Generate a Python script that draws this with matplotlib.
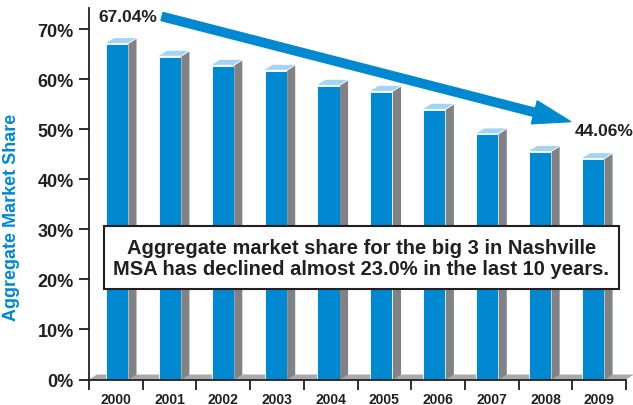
import matplotlib
matplotlib.use("Agg")
import matplotlib.pyplot as plt
from matplotlib.patches import Polygon, Rectangle
import numpy as np

plt.rcParams['font.family'] = ['Liberation Sans', 'DejaVu Sans']

years = ['2000', '2001', '2002', '2003', '2004', '2005', '2006', '2007', '2008', '2009']
share = [67.04, 64.5, 62.7, 61.7, 58.7, 57.5, 53.9, 49.0, 45.5, 44.06]
yticks = [0, 10, 20, 30, 40, 50, 60, 70]
ylabels = ['0%', '10%', '20%', '30%', '40%', '50%', '60%', '70%']
first_label = '67.04%'
last_label = '44.06%'
note = 'Aggregate market share for the big 3 in Nashville\nMSA has declined almost 23.0% in the last 10 years.'
ytitle = 'Aggregate Market Share'

BLUE = '#0089d0'
TOP = '#a3d4f2'
SIDE = '#808285'
FLOOR = '#a7a9ac'
DARK = '#231f20'

W, H = 633, 406
fig = plt.figure(figsize=(W / 100, H / 100), dpi=100)
ax = fig.add_axes([89 / W, 1 - 380.5 / H, (626 - 89) / W, (380.5 - 9) / H])
ax.set_xlim(-0.5, 9.5)
ax.set_ylim(0, 74.2)

dx, dy = 0.15, 1.0
bw = 0.41
pos = np.arange(len(years)) * 0.985 + 0.02

# floor
ax.add_patch(Polygon([(-0.5, 0), (9.5, 0), (9.5 + dx, dy), (-0.5 + dx, dy)],
                     closed=True, facecolor=FLOOR, edgecolor='none', zorder=1, clip_on=False))

for x, v in zip(pos, share):
    l, r = x - bw / 2, x + bw / 2
    ax.bar(x, v, width=bw, color=BLUE, edgecolor='white', linewidth=0.6, zorder=3)
    ax.add_patch(Polygon([(r + 0.01, 0), (r + 0.01 + dx, dy), (r + 0.01 + dx, v + dy), (r + 0.01, v)],
                         closed=True, facecolor=SIDE, edgecolor='none', zorder=3))
    ax.add_patch(Polygon([(l, v + 0.15), (l + dx, v + dy + 0.15), (r + dx, v + dy + 0.15), (r, v + 0.15)],
                         closed=True, facecolor=TOP, edgecolor='none', zorder=3))

# spines & ticks
for s in ['top', 'right']:
    ax.spines[s].set_visible(False)
for s in ['left', 'bottom']:
    ax.spines[s].set_color(DARK)
    ax.spines[s].set_linewidth(1.3)
    ax.spines[s].set_zorder(4)

ax.set_yticks(yticks)
ax.set_yticklabels(ylabels, fontsize=13, fontweight='bold', color=DARK)
ax.tick_params(axis='y', length=7, width=1.3, color=DARK, pad=4)

ax.set_xticks(np.arange(len(years)))
ax.set_xticklabels(years, fontsize=10, fontweight='bold', color=DARK)
ax.tick_params(axis='x', which='major', length=0, pad=9)
ax.set_xticks(np.arange(-0.5, 10, 1), minor=True)
ax.tick_params(axis='x', which='minor', length=7, width=1.3, color=DARK, direction='out')

fig.text(12 / W, 1 - 217 / H, ytitle, rotation=90, color=BLUE, fontsize=13,
         fontweight='bold', ha='center', va='center')

# note box
ax.add_patch(Rectangle((-0.22, 18.0), 9.59, 12.7, facecolor='white', edgecolor=DARK,
                       linewidth=1.5, zorder=5))
ax.text(4.57, 24.3, note, ha='center', va='center', fontsize=14.5, fontweight='bold',
        color=DARK, linespacing=1.1, zorder=6)

# arrow
ax.annotate('', xy=(8.47, 51.5), xytext=(0.86, 72.5),
            arrowprops=dict(arrowstyle='simple,head_length=27,head_width=17,tail_width=6',
                            mutation_scale=1, color=BLUE, shrinkA=0, shrinkB=0),
            annotation_clip=False, zorder=6)

fig.text(128 / W, 1 - 18 / H, first_label, fontsize=12.5, fontweight='bold', color=DARK,
         ha='center', va='center')
fig.text(604 / W, 1 - 132 / H, last_label, fontsize=12.5, fontweight='bold', color=DARK,
         ha='center', va='center')

fig.savefig('out.png', dpi=100)
